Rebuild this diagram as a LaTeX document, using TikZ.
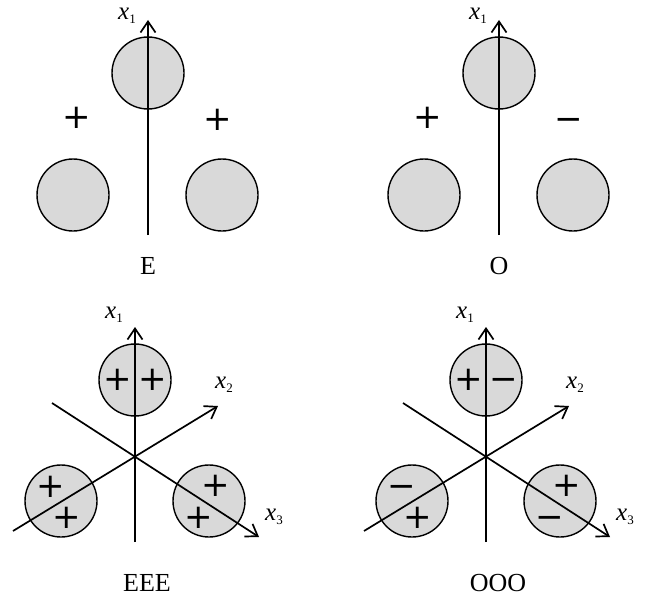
\documentclass[tikz,border=0pt]{standalone}
\usepackage{fontspec}
\setmainfont{Liberation Serif}
\newfontfamily\signfont{DejaVu Sans}
\usepackage{tikz}
\usetikzlibrary{arrows.meta, calc}

\definecolor{lobegray}{RGB}{217,217,217}
\newcommand{\axl}[1]{\textit{x}\raisebox{-4pt}{\fontsize{13}{13}\selectfont #1}}

\begin{document}
\begin{tikzpicture}[
        x=1pt, y=-1pt,
        circ/.style={circle, draw=black, fill=lobegray, line width=1.4pt,
                     minimum size=72pt, inner sep=0pt},
        ax/.style={-{Straight Barb[length=11pt, width=15pt]}, line width=1.7pt},
        sgn/.style={font=\signfont\fontsize{34}{34}\selectfont, inner sep=0pt,
                    text height=21pt, text depth=0pt},
        lbl/.style={font=\fontsize{25}{25}\selectfont, inner sep=0pt},
        ttl/.style={font=\fontsize{26}{26}\selectfont, inner sep=0pt}
    ]
    \useasboundingbox (0,0) rectangle (655,599);
    % Two lobes on a line: E and O
    \foreach \cx/\nm/\sl/\sr in {148/E/+/+, 499/O/+/−} {
        \node[circ] (\nm top)   at (\cx, 73)     {};
        \node[circ] (\nm left)  at (\cx-75, 195) {};
        \node[circ] (\nm right) at (\cx+74, 195) {};
        \coordinate (\nm bot) at (\cx, 235);
        \coordinate (\nm tip) at (\cx, 20);
        \draw[ax] (\nm bot) -- (\nm tip);
        \node[lbl] (\nm x1) at (\cx-21, 16) {\axl{1}};
        \node[sgn] (\nm sl) at (\cx-71, 118) {\sl};
        \node[sgn] (\nm sr) at (\cx+70, 120) {\sr};
        \node[ttl] (\nm ttl) at (\cx, 266) {\nm};
    }
    % Three lobes in a plane: EEE and OOO
    \foreach \cx/\nm/\sa/\sb/\sc/\sd/\se/\sf in
            {135/EEE/+/+/+/+/+/+, 486/OOO/+/−/−/+/+/−} {
        \node[circ] (\nm top)   at (\cx, 380)    {};
        \node[circ] (\nm left)  at (\cx-74, 501) {};
        \node[circ] (\nm right) at (\cx+74, 501) {};
        \coordinate (\nm o1) at (\cx, 542);
        \coordinate (\nm t1) at (\cx, 327);
        \coordinate (\nm o2) at (\cx-122, 531);
        \coordinate (\nm t2) at (\cx+83, 406);
        \coordinate (\nm o3) at (\cx-83, 403);
        \coordinate (\nm t3) at (\cx+124, 537);
        \foreach \k in {1,2,3}
            \draw[ax] (\nm o\k) -- (\nm t\k);
        \node[lbl] (\nm x1) at (\cx-21, 315) {\axl{1}};
        \node[lbl] (\nm x2) at (\cx+89, 385) {\axl{2}};
        \node[lbl] (\nm x3) at (\cx+139, 517) {\axl{3}};
        % signs of the lobes
        \node[sgn] (\nm sa) at ($(\nm top)+(-17,0)$)    {\sa};
        \node[sgn] (\nm sb) at ($(\nm top)+(18,0)$)     {\sb};
        \node[sgn] (\nm sc) at ($(\nm left)+(-10,-14)$) {\sc};
        \node[sgn] (\nm sd) at ($(\nm left)+(6,17)$)    {\sd};
        \node[sgn] (\nm se) at ($(\nm right)+(7,-15)$)  {\se};
        \node[sgn] (\nm sf) at ($(\nm right)+(-10,17)$) {\sf};
        \node[ttl] (\nm ttl) at (\cx+12, 583) {\nm};
    }
\end{tikzpicture}
\end{document}
